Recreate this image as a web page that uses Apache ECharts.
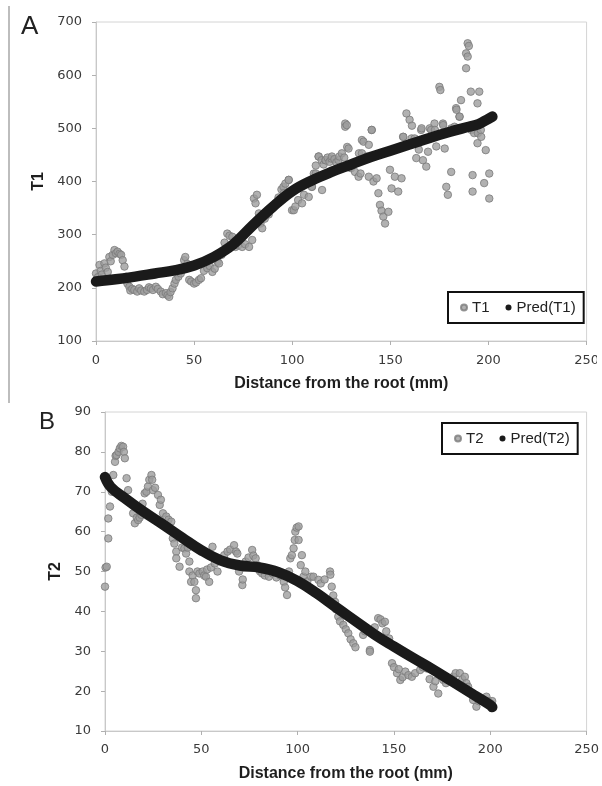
<!DOCTYPE html>
<html>
<head>
<meta charset="utf-8">
<script src="https://cdn.jsdelivr.net/npm/echarts@6/dist/echarts.min.js"></script>
<style>
html,body{margin:0;padding:0;background:#fff;}
#chart{width:602px;height:786px;}
</style>
</head>
<body>
<div id="chart"></div>
<script>
// ---- Panel A data ----
const xTicks = [0, 50, 100, 150, 200, 250];
const t1YTicks = [100, 200, 300, 400, 500, 600, 700];
const t2YTicks = [10, 20, 30, 40, 50, 60, 70, 80, 90];

const t1X = [0,0.5,1,1.8,2.5,3,4.3,5,6,6.8,7.5,8.5,9.4,10.2,11,12,12.8,13.6,14.5,15.3,16,17,17.5,18.5,19.5,21,22,23,24.6,26,27,28,29,30.5,31.5,33,34,35.6,36.5,37.3,38,39,40,40.7,42,43.2,44,44.9,45.5,46.5,47.5,47.5,48.5,50,51,52.5,53.5,55,56.7,58,59.3,60.5,62,62.7,64,65.5,66.9,68,69.5,70.5,71.1,72.5,74.5,76,78,79.6,80.5,81.3,82,83,83.8,84.7,86,88,90,91.5,93,94.5,95.5,95.7,96.5,98.2,98.2,99.9,100.8,101.6,103,105,106,108.4,110,110,111,112,112,113.4,113.5,115,115.2,116,117,117,118,119,120,120.2,121.5,122.5,123.6,124,125.3,126.5,127,127,127.8,128,128.7,130,132,133.8,134,134.8,135.5,135.5,136.3,138,139,139,140.5,140.5,141.4,143,143.9,144.7,145.5,146.4,147.3,149,149.8,150.6,152.3,154,155.7,156.5,156.6,158.2,159.8,160.8,161,162.4,163.2,164.5,165.7,165.9,166.6,168.3,169.2,170.1,170.8,172.5,172.7,173.4,175,175.5,176.8,176.9,177.7,178.5,179.3,181,181.1,182.7,183.5,183.7,185.2,185.3,186,188.6,188.6,189.4,190,189.4,191,191.3,191.9,191.9,192.7,194.4,194.6,195.3,194.4,196.1,196.3,197.8,198.6,200.4,200.4];
const t1Y = [227,214,220,243,232,225,246,238,230,258,250,262,271,265,268,264,262,252,240,221,208,202,195,198,196,193,199,195,193,196,201,199,196,202,198,193,188,190,186,183,192,199,208,215,221,227,233,252,258,245,240,215,212,208,210,215,218,232,237,241,230,236,249,246,262,285,302,298,296,285,277,280,277,282,277,290,368,359,375,340,321,312,330,338,350,359,370,385,390,378,396,403,403,346,346,353,365,359,375,371,390,390,415,430,415,447,447,440,384,432,440,440,445,437,443,447,442,436,440,447,453,445,509,503,506,465,462,425,418,409,453,415,453,478,475,447,409,469,497,497,400,406,378,356,345,334,321,343,422,387,409,381,406,484,484,528,516,481,505,481,444,460,497,500,440,428,456,500,497,509,497,466,578,572,509,506,462,390,375,418,500,503,538,535,522,522,553,613,641,660,655,635,569,497,412,381,491,472,491,569,547,497,484,397,459,415,368];

const predT1X = [0,10,20,30,40,50,60,70,80,90,100,110,120,130,140,150,160,170,180,190,195,200,202];
const predT1Y = [212,216,221,227,233,242,258,282,318,352,382,402,418,432,446,458,470,482,493,503,508,518,522];

// ---- Panel B data ----
const t2X = [0,0.3,0.9,1.7,1.7,2.6,3.5,4.3,5.2,5.5,6,7,7.7,8.5,9.4,9.8,10.3,11.2,12,14.6,15.5,16.5,17.2,18,18.9,19.5,20.6,21.5,22.3,23,24.1,24.5,24.9,26,27.5,28.4,29,30.1,31.8,33,34.4,35.2,36,37,37,38.7,40,41.2,42.1,43,43.8,43.8,44.7,45.5,46.4,47.2,47.2,48,49,50.7,51.5,52.4,53,54.1,55,55.8,57,58.4,60,61.9,63.6,65,67,68,68.7,69.6,71.3,71.5,73,74.5,76.4,77,78.2,79,80.5,81.6,83,85.1,87,89,91,92.8,93.5,94.5,95.5,96.2,97,97.9,98.5,98.8,99.5,100.5,100.5,101.6,102.2,103,104,105,107,108.2,110.8,112,114,116.8,117,117.7,118.5,119.4,120,121.1,122,123.7,125,126.3,127.5,128.9,130,134,135,137.5,137.5,140,141.8,143,144,145.3,146,147.5,149,150,151.6,152.5,153.3,154.5,155.9,157.5,159.3,161,163.6,165,167,168.5,170.5,171.5,173,175.6,177,179,180.8,182,184.2,185.5,186.8,187.6,188.5,190,191.1,192.8,194,196,198,199,200.6,201];
const t2Y = [46.2,51,51.2,58.3,63.3,66.3,70,74.2,77.5,79,79.2,80,80.9,81.5,81.3,80,78.4,73.4,70.4,64.6,62.1,63.5,62.9,63.5,64.2,67,69.6,70,71.3,73,74.2,73,70.4,71,69.2,66.7,68,64.6,63.8,63,62.5,58.3,57,55,53.3,51.2,56,55.8,54.5,56,52.5,50,47.4,49,47.4,45.3,43.3,50,49.5,50,49,48.7,50.5,47.4,51,56.2,52,50,53,54.1,55,55.5,56.6,55,54.5,50,46.6,48,52.5,53.5,55.4,54,53.3,51.6,50,49.5,49,48.7,49.5,48.5,49,47.4,46,44.1,50,53.3,54.1,55.8,57.9,60,61,61.3,57.9,51.6,54.1,48.7,50,47.5,48.7,48.7,47.9,47,48,50,49.2,46.2,44,42.4,40.5,38.7,37.5,36.6,35.5,34.5,33,32,31,34.1,35,30.3,29.9,36,38.3,38,37,37.4,35,33.2,27,26,24.5,25.5,22.8,23.5,24.9,24,23.6,24.5,25.3,26,25.7,23,21.1,22.5,19.4,22.8,22,23,23.6,24.5,24.5,23,23.6,22,21.1,19.5,17.8,16.1,17.5,18,18.6,17.5,16.9,17.5];

const predT2X = [0,3,10,20,30,40,50,60,70,80,90,100,110,120,130,140,150,160,170,180,190,200,201];
const predT2Y = [73.7,71.2,68.5,65,61.8,58.5,55.3,52.8,51.5,51,49.8,47.6,44.5,41,37.6,34.2,31.2,28.3,25.5,22.5,19.5,16.5,16];

const zip = (a, b) => a.map((v, i) => [v, b[i]]);

const tickFont = { fontFamily: 'DejaVu Sans', fontSize: 13, color: '#3a3a3a' };
const nameFont = { fontFamily: 'Liberation Sans', fontSize: 16, fontWeight: 'bold', color: '#1e1e1e' };
const axisLine = { lineStyle: { color: '#c8c8c8', width: 1 } };
const axisTick = { show: true, length: 4, lineStyle: { color: '#b0b0b0' } };

function xAxisDef(idx, margin) {
  return {
    type: 'value', gridIndex: idx, min: xTicks[0], max: xTicks[xTicks.length - 1], interval: 50,
    name: 'Distance from the root (mm)', nameLocation: 'middle', nameGap: 35,
    nameTextStyle: nameFont,
    axisLine: axisLine, axisTick: axisTick, splitLine: { show: false },
    axisLabel: Object.assign({ margin: margin }, tickFont)
  };
}
function yAxisDef(idx, ticks, name, gap) {
  return {
    type: 'value', gridIndex: idx, min: ticks[0], max: ticks[ticks.length - 1], interval: ticks[1] - ticks[0],
    name: name, nameLocation: 'middle', nameGap: gap,
    nameTextStyle: Object.assign({}, nameFont, { fontSize: 16 }),
    axisLine: Object.assign({ show: true }, axisLine), axisTick: axisTick, splitLine: { show: false },
    axisLabel: Object.assign({ margin: 14 }, tickFont)
  };
}

const scatterStyle = { color: '#9d9d9d', borderColor: '#7a7a7a', borderWidth: 1 };
const predLine = { color: '#1a1a1a', width: 10.5, cap: 'round', join: 'round' };

const legendText = { fontFamily: 'Liberation Sans', fontSize: 15, color: '#222' };

const option = {
  animation: false,
  backgroundColor: '#fff',
  grid: [
    { left: 96, top: 22, width: 493, height: 319, show: true, borderColor: '#d4d4d4', borderWidth: 1 },
    { left: 105, top: 412, width: 485, height: 319, show: true, borderColor: '#d4d4d4', borderWidth: 1 }
  ],
  xAxis: [xAxisDef(0, 13), xAxisDef(1, 12)],
  yAxis: [yAxisDef(0, t1YTicks, 'T1', 46), yAxisDef(1, t2YTicks, 'T2', 39)],
  legend: [
    {
      data: [{ name: 'T1', icon: 'circle' }, { name: 'Pred(T1)', icon: 'circle' }],
      left: 448, top: 292, orient: 'horizontal',
      itemWidth: 6, itemHeight: 6, itemGap: 16,
      padding: [8, 8, 8, 12], borderColor: '#111', borderWidth: 2,
      textStyle: legendText
    },
    {
      data: [{ name: 'T2', icon: 'circle' }, { name: 'Pred(T2)', icon: 'circle' }],
      left: 442, top: 423, orient: 'horizontal',
      itemWidth: 6, itemHeight: 6, itemGap: 16,
      padding: [8, 8, 8, 12], borderColor: '#111', borderWidth: 2,
      textStyle: legendText
    }
  ],
  graphic: [
    { type: 'line', shape: { x1: 9, y1: 6, x2: 9, y2: 403 }, style: { stroke: '#bdbdbd', lineWidth: 2 } },
    { type: 'text', left: 21, top: 14, style: { text: 'A', font: '26px "Liberation Sans"', fill: '#222' } },
    { type: 'text', left: 39, top: 410, style: { text: 'B', font: '24px "Liberation Sans"', fill: '#222' } },
    { type: 'rect', shape: { x: 597, y: 350, width: 6, height: 22 }, style: { fill: '#fff' }, z: 100 }
  ],
  series: [
    { name: 'T1', type: 'scatter', xAxisIndex: 0, yAxisIndex: 0, data: zip(t1X, t1Y),
      symbolSize: 7.5, itemStyle: scatterStyle, z: 2 },
    { name: 'Pred(T1)', type: 'line', xAxisIndex: 0, yAxisIndex: 0, data: zip(predT1X, predT1Y),
      smooth: 0.4, showSymbol: false, lineStyle: predLine, itemStyle: { color: '#1a1a1a' }, z: 3 },
    { name: 'T2', type: 'scatter', xAxisIndex: 1, yAxisIndex: 1, data: zip(t2X, t2Y),
      symbolSize: 7.5, itemStyle: scatterStyle, z: 2 },
    { name: 'Pred(T2)', type: 'line', xAxisIndex: 1, yAxisIndex: 1, data: zip(predT2X, predT2Y),
      smooth: 0.4, showSymbol: false, lineStyle: predLine, itemStyle: { color: '#1a1a1a' }, z: 3 }
  ]
};

const chart = echarts.init(document.getElementById('chart'), null, { renderer: 'canvas' });
chart.setOption(option);
</script>
</body>
</html>
